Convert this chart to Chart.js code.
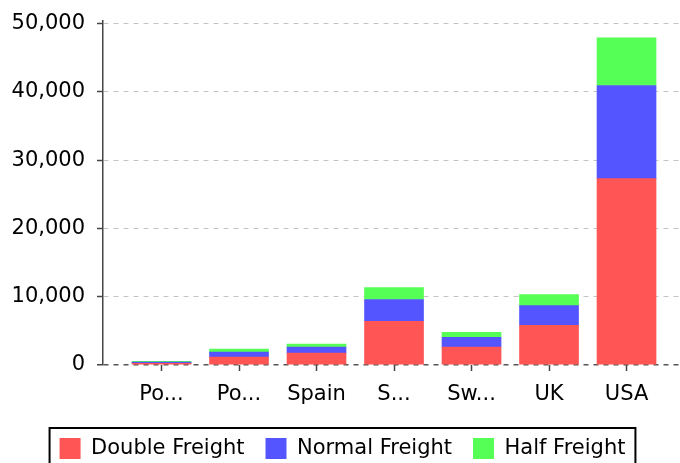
<!DOCTYPE html>
<html><head><meta charset="utf-8">
<script src="https://cdn.jsdelivr.net/npm/chart.js@4/dist/chart.umd.min.js"></script>
<style>html,body{margin:0;padding:0;background:#fff}canvas{display:block}</style>
</head><body>
<canvas id="c" width="680" height="463"></canvas>
<script>
const categories = ['Po...', 'Po...', 'Spain', 'S...', 'Sw...', 'UK', 'USA'];
const doubleFreight = [250, 1165, 1750, 6400, 2620, 5810, 27300];
const normalFreight = [180, 730, 870, 3200, 1450, 2900, 13650];
const halfFreight = [110, 437, 440, 1740, 730, 1600, 6980];
const yTicks = [0, 10000, 20000, 30000, 40000, 50000];
const seriesNames = ['Double Freight', 'Normal Freight', 'Half Freight'];
const seriesColors = ['#FF5555', '#5555FF', '#55FF55'];

Chart.defaults.font.family = '"DejaVu Sans", sans-serif';
Chart.defaults.font.size = 21;
Chart.defaults.color = '#000';

const legendBorder = {
  id: 'legendBorder',
  afterDraw(chart) {
    const lg = chart.legend;
    if (!lg || !lg.legendHitBoxes || !lg.legendHitBoxes.length) return;
    const hb = lg.legendHitBoxes;
    const l = Math.min(...hb.map(h => h.left)) - 10;
    const r = Math.max(...hb.map(h => h.left + h.width)) + 10;
    const t = Math.min(...hb.map(h => h.top)) - 10;
    const b = Math.max(...hb.map(h => h.top + h.height)) + 10;
    const ctx = chart.ctx;
    ctx.save();
    ctx.strokeStyle = '#000';
    ctx.lineWidth = 2;
    ctx.strokeRect(l, t, r - l, b - t);
    ctx.restore();
  }
};

const toPoints = arr => arr.map((v, i) => ({x: i, y: v}));

new Chart(document.getElementById('c'), {
  type: 'bar',
  data: {
    datasets: [
      {label: seriesNames[0], data: toPoints(doubleFreight), backgroundColor: seriesColors[0]},
      {label: seriesNames[1], data: toPoints(normalFreight), backgroundColor: seriesColors[1]},
      {label: seriesNames[2], data: toPoints(halfFreight), backgroundColor: seriesColors[2]}
    ]
  },
  options: {
    responsive: false,
    animation: false,
    events: [],
    layout: {padding: {left: 5, right: 0, top: 21, bottom: -6}},
    datasets: {bar: {barThickness: 59, borderWidth: 0}},
    plugins: {
      tooltip: {enabled: false},
      legend: {
        position: 'bottom',
        labels: {boxWidth: 21, boxHeight: 21, padding: 21, color: '#000', font: {size: 21}}
      }
    },
    scales: {
      x: {
        type: 'linear',
        stacked: true,
        offset: false,
        min: -0.755,
        max: 6.69,
        afterBuildTicks: s => { s.ticks = categories.map((c, i) => ({value: i})); },
        afterFit: s => { s.height = 52; s.paddingLeft = 0; s.paddingRight = 0; },
        ticks: {callback: v => categories[v], autoSkip: false, maxRotation: 0, color: '#000', padding: 11},
        grid: {offset: false, drawOnChartArea: false, tickLength: 6, tickColor: '#444', tickWidth: 1.5},
        border: {display: false}
      },
      y: {
        stacked: true,
        min: 0,
        max: 50400,
        afterBuildTicks: s => { s.ticks = yTicks.map(v => ({value: v})); },
        afterFit: s => { s.width = 98; s.paddingTop = 0; s.paddingBottom = 0; },
        ticks: {callback: v => v.toLocaleString('en-US'), color: '#000', padding: 12},
        grid: {
          color: c => (c.tick && c.tick.value === 0) ? '#555' : '#c4c4c4',
          lineWidth: c => (c.tick && c.tick.value === 0) ? 1.5 : 1,
          tickLength: 6, tickColor: '#444', tickWidth: 1.5, tickBorderDash: []
        },
        border: {display: true, color: '#444', width: 1.5, dash: [5, 5]}
      }
    }
  },
  plugins: [legendBorder]
});
</script>
</body></html>
